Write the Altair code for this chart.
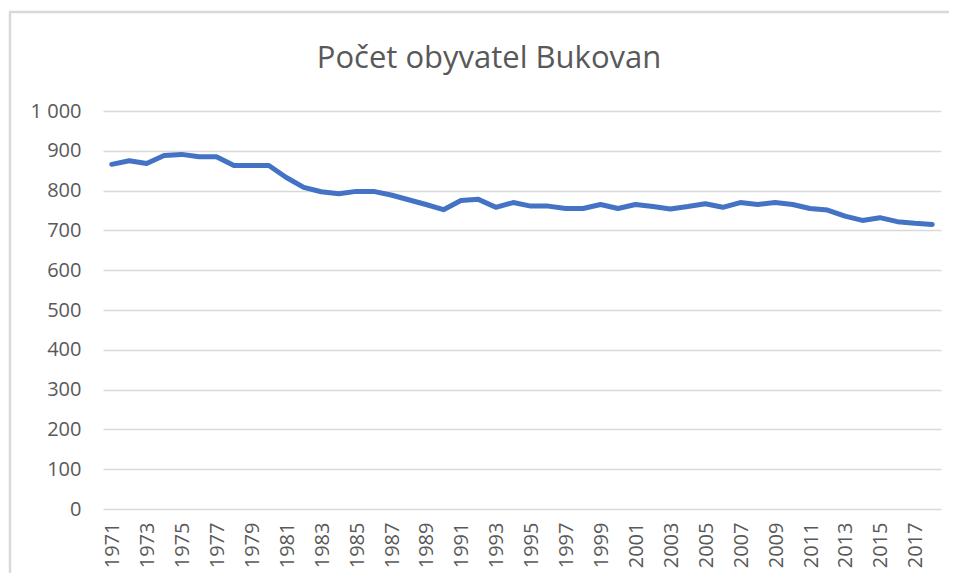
import altair as alt
import pandas as pd

years = list(range(1971, 2019))
population = [866, 875, 868, 888, 891, 885, 885, 863, 863, 863,
              833, 808, 797, 792, 798, 798, 789, 777, 765, 752,
              775, 778, 758, 770, 761, 761, 755, 755, 765, 755,
              765, 760, 754, 760, 767, 758, 770, 765, 770, 765,
              755, 751, 736, 725, 732, 722, 718, 715]
x_labels = list(range(1971, 2019, 2))
y_ticks = list(range(0, 1001, 100))
title_text = "Počet obyvatel Bukovan"

FONT = "Open Sans"
GREY = "#595959"
GRID = "#d9d9d9"

df = pd.DataFrame({"rok": years, "obyvatel": population})

line = alt.Chart(df).mark_line(
    color="#4472C4", strokeWidth=5, strokeJoin="round", strokeCap="round"
).encode(
    x=alt.X("rok:O", title=None,
            scale=alt.Scale(type="point", padding=0.5),
            axis=alt.Axis(values=x_labels, labelAngle=-90, labelFontSize=20,
                          labelFont=FONT, labelColor=GREY, labelPadding=13,
                          labelOffset=1, ticks=False, domain=False, grid=False)),
    y=alt.Y("obyvatel:Q", title=None,
            scale=alt.Scale(domain=[0, 1000], nice=False, zero=True),
            axis=alt.Axis(values=y_ticks, labelFontSize=20, labelFont=FONT,
                          labelColor=GREY, labelPadding=22, ticks=False,
                          domain=False, grid=True, gridColor=GRID, gridWidth=1.5,
                          labelExpr="replace(format(datum.value, ','), ',', ' ')")),
)

frame = pd.DataFrame({"k": [0]})
left_border = alt.Chart(frame).mark_rule(color=GRID, strokeWidth=2.5).encode(
    x=alt.value(-93), y=alt.value(-99), y2=alt.value(480))
top_border = alt.Chart(frame).mark_rule(color=GRID, strokeWidth=2.5).encode(
    x=alt.value(-94), x2=alt.value(860), y=alt.value(-99))

title_df = pd.DataFrame({"t": [title_text]})
title = alt.Chart(title_df).mark_text(
    font=FONT, fontSize=31, color=GREY, align="center", baseline="alphabetic"
).encode(text="t:N", x=alt.value(386), y=alt.value(-43))

chart = alt.layer(left_border, top_border, title, line).properties(
    width=838, height=398,
    autosize=alt.AutoSizeParams(type="none"),
    padding={"left": 95, "top": 103, "right": 8, "bottom": 64},
).configure_view(stroke=None)

chart.save("out.html", embed_options={"renderer": "svg", "actions": False})
